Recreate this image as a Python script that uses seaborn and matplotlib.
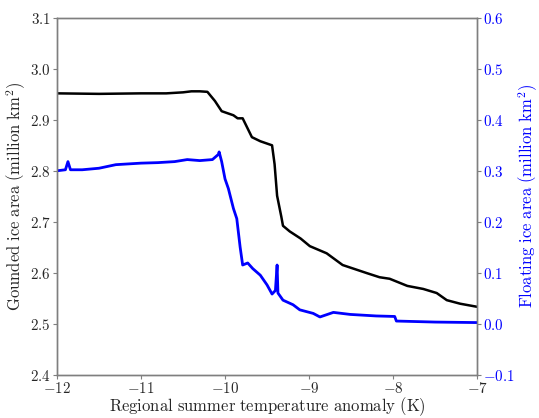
import matplotlib
matplotlib.use("Agg")
import matplotlib.pyplot as plt
import seaborn as sns
import pandas as pd
from matplotlib.ticker import FuncFormatter, MultipleLocator

# Gounded (grounded) ice area, million km^2 (left axis)
grounded_x = [-12.0, -11.5, -11.0, -10.7, -10.5, -10.4, -10.3, -10.21, -10.12, -10.04,
              -9.90, -9.85, -9.79, -9.68, -9.58, -9.44, -9.41, -9.38, -9.33, -9.31,
              -9.23, -9.10, -8.99, -8.79, -8.60, -8.31, -8.16, -8.04, -7.83, -7.64,
              -7.48, -7.36, -7.20, -7.0]
grounded_y = [2.952, 2.951, 2.952, 2.952, 2.954, 2.956, 2.956, 2.955, 2.937, 2.917,
              2.909, 2.903, 2.903, 2.866, 2.858, 2.850, 2.813, 2.751, 2.710, 2.692,
              2.681, 2.667, 2.652, 2.638, 2.615, 2.599, 2.591, 2.588, 2.574, 2.568,
              2.560, 2.546, 2.539, 2.533]

# Floating ice area, million km^2 (right axis)
floating_x = [-12.0, -11.9, -11.87, -11.84, -11.7, -11.5, -11.3, -11.0, -10.8, -10.6,
              -10.45, -10.3, -10.15, -10.08, -10.07, -10.04, -10.0, -9.96, -9.90, -9.86,
              -9.82, -9.79, -9.73, -9.67, -9.58, -9.50, -9.44, -9.40, -9.38, -9.37,
              -9.31, -9.19, -9.11, -8.95, -8.87, -8.71, -8.51, -8.2, -7.98, -7.96,
              -7.5, -7.0]
floating_y = [0.300, 0.302, 0.318, 0.302, 0.302, 0.305, 0.312, 0.315, 0.316, 0.318,
              0.322, 0.320, 0.322, 0.332, 0.337, 0.318, 0.284, 0.265, 0.226, 0.206,
              0.150, 0.115, 0.119, 0.108, 0.095, 0.076, 0.058, 0.065, 0.115, 0.060,
              0.046, 0.037, 0.027, 0.020, 0.013, 0.022, 0.018, 0.015, 0.014, 0.005,
              0.003, 0.002]

x_ticks = [-12, -11, -10, -9, -8, -7]

sns.set_style("white")
plt.rcParams["mathtext.fontset"] = "cm"
plt.rcParams["font.family"] = ["DejaVu Serif"]

df_g = pd.DataFrame({"x": grounded_x, "y": grounded_y})
df_f = pd.DataFrame({"x": floating_x, "y": floating_y})

fig = plt.figure(figsize=(5.39, 4.18), dpi=100)
ax = fig.add_axes([0.1058, 0.104, 0.7792, 0.853])
ax2 = ax.twinx()

sns.lineplot(data=df_g, x="x", y="y", ax=ax, color="black", lw=1.8, sort=False)
sns.lineplot(data=df_f, x="x", y="y", ax=ax2, color="#0000ff", lw=2.0, sort=False)

ax.set_xlim(-12, -7)
ax.set_ylim(2.4, 3.1)
ax2.set_ylim(-0.1, 0.6)
ax.set_xticks(x_ticks)
ax.yaxis.set_major_locator(MultipleLocator(0.1))
ax2.yaxis.set_major_locator(MultipleLocator(0.1))

def fmt_int(v, pos):
    return r"$%d$" % round(v)

def fmt_1(v, pos):
    s = "%.1f" % v
    if s == "-0.0":
        s = "0.0"
    return r"$%s$" % s

ax.xaxis.set_major_formatter(FuncFormatter(fmt_int))
ax.yaxis.set_major_formatter(FuncFormatter(fmt_1))
ax2.yaxis.set_major_formatter(FuncFormatter(fmt_1))

fs = 12.0
tfs = 10.8
ax.set_xlabel(r"$\mathrm{Regional\ summer\ temperature\ anomaly\ (K)}$", fontsize=fs, labelpad=-0.5)
ax.set_ylabel(r"$\mathrm{Gounded\ ice\ area\ (million\ km^2)}$", fontsize=fs, labelpad=1)
ax2.set_ylabel(r"$\mathrm{Floating\ ice\ area\ (million\ km^2)}$", fontsize=fs, color="#0000ff", labelpad=1)

for a in (ax, ax2):
    for sp in a.spines.values():
        sp.set_color("#7f7f7f")
        sp.set_linewidth(1.0)
ax.tick_params(axis="both", which="major", labelsize=tfs, length=3, width=0.8, color="#7f7f7f", pad=1.5, direction="out")
ax.tick_params(axis="y", left=True)
ax.tick_params(axis="x", bottom=True)
ax2.tick_params(axis="y", right=True, labelsize=tfs, length=3, width=0.8, color="#7f7f7f", labelcolor="#0000ff", pad=1.5, direction="out")

fig.savefig("out.png", dpi=100)
